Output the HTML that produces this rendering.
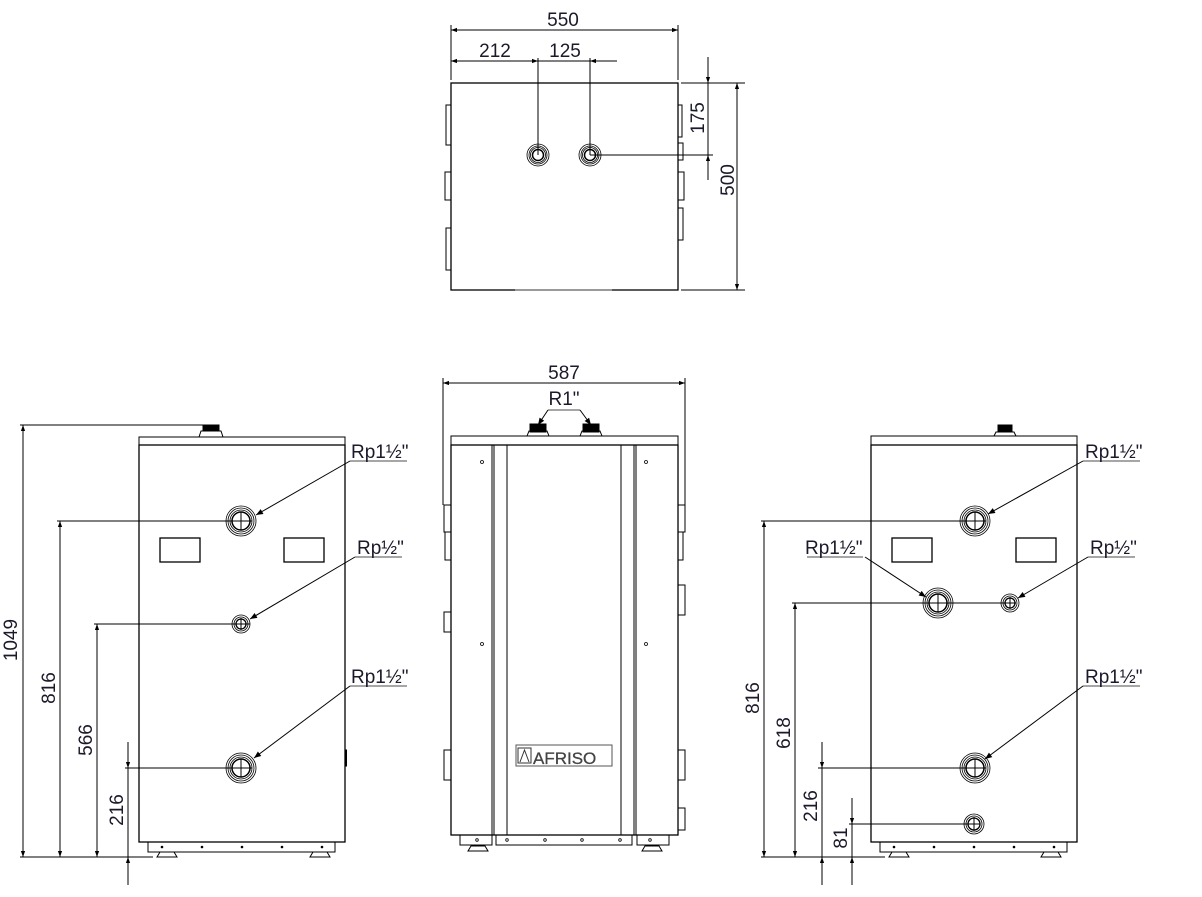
<!DOCTYPE html>
<html><head><meta charset="utf-8"><style>
html,body{margin:0;padding:0;background:#fff}
svg{display:block}
text{font-family:"Liberation Sans",sans-serif;font-size:19px;fill:#1a1a2a}
</style></head><body>
<svg width="1202" height="897" viewBox="0 0 1202 897" xmlns="http://www.w3.org/2000/svg">
<defs>
<marker id="a" viewBox="0 0 10 10" refX="10" refY="5" markerWidth="10" markerHeight="6" orient="auto-start-reverse" markerUnits="userSpaceOnUse"><path d="M0,1.5 L10,5 L0,8.5z" fill="#000"/></marker>
<marker id="b" viewBox="0 0 10 10" refX="10" refY="5" markerWidth="12" markerHeight="7" orient="auto" markerUnits="userSpaceOnUse"><path d="M0,1 L10,5 L0,9z" fill="#000"/></marker>
</defs>
<g stroke="#000" fill="none" stroke-width="1">
<rect x="451" y="83" width="227" height="207" stroke-width="1.3"/>
<line x1="515" y1="290" x2="612" y2="290" stroke="#999" stroke-width="2"/>
<rect x="446" y="105" width="5" height="40"/><rect x="445" y="172" width="6" height="28"/><rect x="446" y="228" width="5" height="42"/>
<rect x="678" y="105" width="4" height="32"/><rect x="678" y="143" width="5" height="17"/><rect x="678" y="172" width="6" height="28"/><rect x="678" y="208" width="5" height="32"/>
<line x1="451" y1="25" x2="451" y2="80"/><line x1="678" y1="25" x2="678" y2="80"/>
<line x1="451" y1="30" x2="678" y2="30" marker-start="url(#a)" marker-end="url(#a)"/>
<line x1="451" y1="61" x2="538" y2="61" marker-start="url(#a)" marker-end="url(#a)"/>
<line x1="538" y1="61" x2="617" y2="61"/>
<path d="M602,61 L590,61" marker-end="url(#a)"/>
<line x1="538" y1="58" x2="538" y2="155"/><line x1="590" y1="58" x2="590" y2="155"/>
<g stroke-width="0.8"><circle cx="538" cy="155" r="11"/><circle cx="538" cy="155" r="9"/><circle cx="538" cy="155" r="7.5"/><circle cx="538" cy="155" r="5.5" stroke-width="1.5"/>
<circle cx="590" cy="155" r="11"/><circle cx="590" cy="155" r="9"/><circle cx="590" cy="155" r="7.5"/><circle cx="590" cy="155" r="5.5" stroke-width="1.5"/></g>
<line x1="590" y1="155" x2="713" y2="155"/>
<line x1="681" y1="83" x2="745" y2="83"/><line x1="681" y1="290" x2="745" y2="290"/>
<line x1="708" y1="57" x2="708" y2="83" marker-end="url(#a)"/>
<line x1="708" y1="180" x2="708" y2="155" marker-end="url(#a)"/>
<line x1="708" y1="83" x2="708" y2="155"/>
<line x1="737" y1="83" x2="737" y2="290" marker-start="url(#a)" marker-end="url(#a)"/>

<rect x="139" y="437" width="206" height="8"/>
<rect x="139" y="445" width="206" height="397" stroke-width="1.3"/>
<rect x="148" y="842" width="187" height="10"/>
<path d="M157,857 L160,852 L174,852 L177,857z M310,857 L313,852 L327,852 L330,857z"/>
<rect x="203" y="425" width="16" height="6" fill="#000"/><path d="M199,437 L201,431 L221,431 L223,437"/>
<rect x="345" y="750" width="1.5" height="16" fill="#000"/>
<rect x="160" y="538" width="40" height="24" stroke-width="1.3"/><rect x="284" y="538" width="40" height="24" stroke-width="1.3"/>
<g fill="#000" stroke="none"><circle cx="162" cy="847" r="1.3"/><circle cx="202" cy="847" r="1.3"/><circle cx="242" cy="847" r="1.3"/><circle cx="282" cy="847" r="1.3"/><circle cx="322" cy="847" r="1.3"/></g>
<g stroke-width="0.8">
<circle cx="241" cy="521" r="15"/><circle cx="241" cy="521" r="13"/><circle cx="241" cy="521" r="11"/><circle cx="241" cy="521" r="9" stroke-width="1.5"/>
<circle cx="241" cy="624" r="9"/><circle cx="241" cy="624" r="7"/><circle cx="241" cy="624" r="5" stroke-width="1.3"/>
<circle cx="241" cy="768" r="15"/><circle cx="241" cy="768" r="13"/><circle cx="241" cy="768" r="11"/><circle cx="241" cy="768" r="9" stroke-width="1.5"/></g>
<line x1="241" y1="512" x2="241" y2="530"/><line x1="241" y1="759" x2="241" y2="777"/><line x1="241" y1="618" x2="241" y2="630"/>
<line x1="20" y1="425" x2="205" y2="425"/>
<line x1="20" y1="857" x2="153" y2="857"/>
<line x1="23" y1="425" x2="23" y2="857" marker-start="url(#a)" marker-end="url(#a)"/>
<line x1="57" y1="521" x2="252" y2="521"/>
<line x1="60" y1="521" x2="60" y2="857" marker-start="url(#a)" marker-end="url(#a)"/>
<line x1="94" y1="624" x2="250" y2="624"/>
<line x1="97" y1="624" x2="97" y2="857" marker-start="url(#a)" marker-end="url(#a)"/>
<line x1="125" y1="768" x2="252" y2="768"/>
<line x1="128" y1="742" x2="128" y2="768" marker-end="url(#a)"/>
<line x1="128" y1="885" x2="128" y2="857" marker-end="url(#a)"/>
<line x1="128" y1="768" x2="128" y2="857"/>
<g stroke="#888" stroke-width="1.5"><line x1="350" y1="461" x2="407" y2="461"/><line x1="355" y1="557" x2="402" y2="557"/><line x1="350" y1="686" x2="407" y2="686"/></g>
<line x1="350" y1="461" x2="256" y2="515" marker-end="url(#b)"/>
<line x1="355" y1="557" x2="250" y2="619" marker-end="url(#b)"/>
<line x1="350" y1="686" x2="254" y2="758" marker-end="url(#b)"/>

<rect x="451" y="436" width="227" height="9"/>
<rect x="451" y="445" width="227" height="390" stroke-width="1.3"/>
<line x1="492" y1="445" x2="492" y2="835"/><line x1="494" y1="445" x2="494" y2="835"/>
<line x1="507" y1="445" x2="507" y2="835"/><line x1="621" y1="445" x2="621" y2="835"/>
<line x1="634" y1="445" x2="634" y2="835"/><line x1="636" y1="445" x2="636" y2="835"/>
<rect x="460" y="835" width="32" height="10"/><rect x="496" y="835" width="136" height="10"/><rect x="637" y="835" width="32" height="10"/>
<path d="M468,851 L471,846 L485,846 L488,851z M642,851 L645,846 L659,846 L662,851z"/>
<g fill="none" stroke-width="0.8"><circle cx="482" cy="462" r="1.5"/><circle cx="646" cy="462" r="1.5"/><circle cx="482" cy="644" r="1.5"/><circle cx="646" cy="644" r="1.5"/>
<circle cx="477" cy="840" r="1.3"/><circle cx="507" cy="840" r="1.3"/><circle cx="545" cy="840" r="1.3"/><circle cx="582" cy="840" r="1.3"/><circle cx="620" cy="840" r="1.3"/><circle cx="650" cy="840" r="1.3"/></g>
<rect x="530" y="424" width="16" height="8" fill="#000"/><path d="M527,436 L529,431 L547,431 L549,436"/>
<rect x="583" y="424" width="16" height="8" fill="#000"/><path d="M580,436 L582,431 L600,431 L602,436"/>
<rect x="444" y="505" width="7" height="27"/><rect x="445" y="532" width="6" height="28"/><rect x="444" y="612" width="7" height="20"/><rect x="444" y="750" width="7" height="30"/>
<rect x="678" y="505" width="7" height="27"/><rect x="678" y="532" width="5" height="28"/><rect x="678" y="585" width="7" height="30"/><rect x="678" y="750" width="7" height="30"/><rect x="678" y="808" width="7" height="22"/>
<line x1="443" y1="378" x2="443" y2="505"/><line x1="685" y1="378" x2="685" y2="505"/>
<line x1="443" y1="383" x2="685" y2="383" marker-start="url(#a)" marker-end="url(#a)"/>
<line x1="548" y1="410" x2="580" y2="410" stroke="#888" stroke-width="1.5"/>
<line x1="548" y1="410" x2="538" y2="425" marker-end="url(#b)"/>
<line x1="580" y1="410" x2="591" y2="425" marker-end="url(#b)"/>
<rect x="516" y="745" width="96" height="21" stroke="#555"/>
<rect x="518" y="748" width="13" height="15" stroke="#333"/>
<path d="M520,762 L524.5,750 L529,762" stroke="#333"/>

<rect x="871" y="436" width="206" height="9"/>
<rect x="871" y="445" width="206" height="397" stroke-width="1.3"/>
<rect x="880" y="842" width="187" height="10"/>
<path d="M889,857 L892,852 L906,852 L909,857z M1041,857 L1044,852 L1058,852 L1061,857z"/>
<rect x="998" y="425" width="14" height="7" fill="#000"/><path d="M994,436 L996,432 L1014,432 L1016,436"/>
<rect x="892" y="538" width="40" height="24" stroke-width="1.3"/><rect x="1016" y="538" width="40" height="24" stroke-width="1.3"/>
<g fill="#000" stroke="none"><circle cx="894" cy="847" r="1.3"/><circle cx="934" cy="847" r="1.3"/><circle cx="974" cy="847" r="1.3"/><circle cx="1014" cy="847" r="1.3"/><circle cx="1054" cy="847" r="1.3"/></g>
<g stroke-width="0.8">
<circle cx="975" cy="521" r="15"/><circle cx="975" cy="521" r="13"/><circle cx="975" cy="521" r="11"/><circle cx="975" cy="521" r="9" stroke-width="1.5"/>
<circle cx="938" cy="603" r="15"/><circle cx="938" cy="603" r="13"/><circle cx="938" cy="603" r="11"/><circle cx="938" cy="603" r="9" stroke-width="1.5"/>
<circle cx="1010" cy="603" r="9"/><circle cx="1010" cy="603" r="7"/><circle cx="1010" cy="603" r="5" stroke-width="1.3"/>
<circle cx="975" cy="768" r="15"/><circle cx="975" cy="768" r="13"/><circle cx="975" cy="768" r="11"/><circle cx="975" cy="768" r="9" stroke-width="1.5"/>
<circle cx="974" cy="824" r="10"/><circle cx="974" cy="824" r="8"/><circle cx="974" cy="824" r="6" stroke-width="1.3"/></g>
<line x1="975" y1="512" x2="975" y2="530"/><line x1="938" y1="594" x2="938" y2="612"/><line x1="975" y1="759" x2="975" y2="777"/><line x1="974" y1="817" x2="974" y2="831"/><line x1="1010" y1="597" x2="1010" y2="609"/>
<line x1="761" y1="521" x2="986" y2="521"/>
<line x1="761" y1="857" x2="885" y2="857"/>
<line x1="764" y1="521" x2="764" y2="857" marker-start="url(#a)" marker-end="url(#a)"/>
<line x1="792" y1="603" x2="1016" y2="603"/>
<line x1="795" y1="603" x2="795" y2="857" marker-start="url(#a)" marker-end="url(#a)"/>
<line x1="818" y1="768" x2="986" y2="768"/>
<line x1="822" y1="742" x2="822" y2="768" marker-end="url(#a)"/>
<line x1="822" y1="885" x2="822" y2="857" marker-end="url(#a)"/>
<line x1="822" y1="768" x2="822" y2="857"/>
<line x1="849" y1="824" x2="980" y2="824"/>
<line x1="852" y1="798" x2="852" y2="824" marker-end="url(#a)"/>
<line x1="852" y1="885" x2="852" y2="857" marker-end="url(#a)"/>
<line x1="852" y1="824" x2="852" y2="857"/>
<g stroke="#888" stroke-width="1.5"><line x1="1083" y1="461" x2="1140" y2="461"/><line x1="807" y1="557" x2="863" y2="557"/><line x1="1088" y1="557" x2="1135" y2="557"/><line x1="1083" y1="686" x2="1140" y2="686"/></g>
<line x1="1083" y1="461" x2="988" y2="514" marker-end="url(#b)"/>
<line x1="865" y1="557" x2="926" y2="597" marker-end="url(#b)"/>
<line x1="1088" y1="557" x2="1018" y2="598" marker-end="url(#b)"/>
<line x1="1083" y1="686" x2="985" y2="759" marker-end="url(#b)"/>
</g>

<text x="563" y="26" text-anchor="middle">550</text>
<text x="495" y="57" text-anchor="middle">212</text>
<text x="565" y="57" text-anchor="middle">125</text>
<text transform="translate(704,118) rotate(-90)" text-anchor="middle">175</text>
<text transform="translate(734,180) rotate(-90)" text-anchor="middle">500</text>
<text x="564" y="379" text-anchor="middle">587</text>
<text x="564" y="405" text-anchor="middle">R1"</text>
<text x="533" y="764" style="font-size:17px;fill:#444;stroke:#444;stroke-width:0.3">AFRISO</text>
<text transform="translate(17,640) rotate(-90)" text-anchor="middle">1049</text>
<text transform="translate(55,688) rotate(-90)" text-anchor="middle">816</text>
<text transform="translate(92,740) rotate(-90)" text-anchor="middle">566</text>
<text transform="translate(123,810) rotate(-90)" text-anchor="middle">216</text>
<text x="351" y="458">Rp1½"</text>
<text x="357" y="554">Rp½"</text>
<text x="351" y="683">Rp1½"</text>
<text transform="translate(759,698) rotate(-90)" text-anchor="middle">816</text>
<text transform="translate(790,733) rotate(-90)" text-anchor="middle">618</text>
<text transform="translate(817,806) rotate(-90)" text-anchor="middle">216</text>
<text transform="translate(847,838) rotate(-90)" text-anchor="middle">81</text>
<text x="1085" y="458">Rp1½"</text>
<text x="805" y="554">Rp1½"</text>
<text x="1090" y="554">Rp½"</text>
<text x="1085" y="683">Rp1½"</text>
</svg>
</body></html>
